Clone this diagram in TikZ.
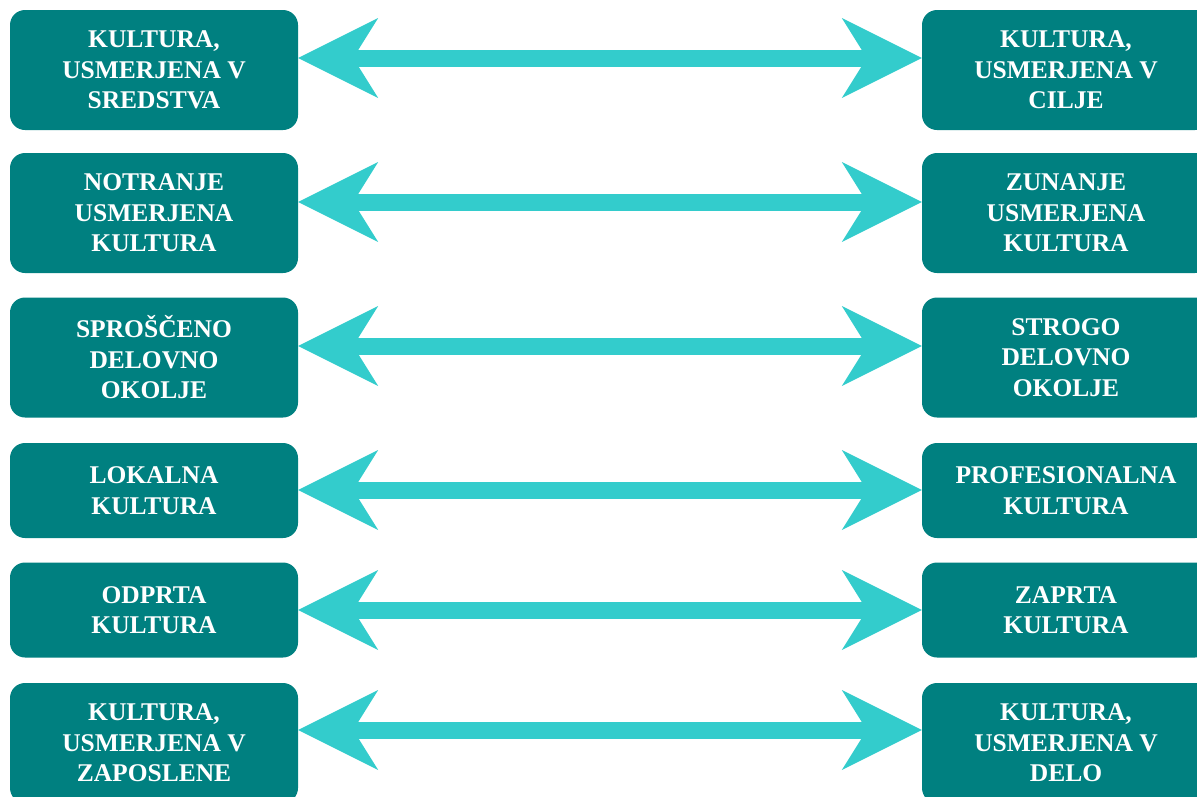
\documentclass[tikz,border=0pt]{standalone}
\usepackage{fontspec}
\setmainfont{Liberation Serif}
\usetikzlibrary{arrows.meta}
\definecolor{boxteal}{HTML}{008080}
\definecolor{arrowcyan}{HTML}{33CCCC}

\begin{document}
\begin{tikzpicture}[x=1pt,y=-1pt,
  cultbox/.style={rectangle, rounded corners=15pt, fill=boxteal, text=white,
    minimum width=288pt, inner sep=0pt, align=center,
    font=\bfseries\fontsize{25.5}{30.5}\selectfont},
  tallbox/.style={cultbox, minimum height=120pt},
  shortbox/.style={cultbox, minimum height=95pt},
  bigtip/.tip={Stealth[length=80pt, width=80pt, inset=25pt, line width=0pt, fill=arrowcyan]},
  twoway/.style={draw=arrowcyan, line width=17pt, bigtip-bigtip}
]
\useasboundingbox (0,0) rectangle (1197,796);
\clip (0,0) rectangle (1197,796);

% left column
\node[tallbox]  (L1) at (154,70)    {KULTURA,\\USMERJENA V\\SREDSTVA};
\node[tallbox]  (L2) at (154,213)   {NOTRANJE\\USMERJENA\\KULTURA};
\node[tallbox]  (L3) at (154,357.5) {SPROŠČENO\\DELOVNO\\OKOLJE};
\node[shortbox] (L4) at (154,490.5) {LOKALNA\\KULTURA};
\node[shortbox] (L5) at (154,610)   {ODPRTA\\KULTURA};
\node[tallbox]  (L6) at (154,743)   {KULTURA,\\USMERJENA V\\ZAPOSLENE};

% right column
\node[tallbox]  (R1) at (1066,70)    {KULTURA,\\USMERJENA V\\CILJE};
\node[tallbox]  (R2) at (1066,213)   {ZUNANJE\\USMERJENA\\KULTURA};
\node[tallbox]  (R3) at (1066,357.5) {STROGO\\DELOVNO\\OKOLJE};
\node[shortbox] (R4) at (1066,490.5) {PROFESIONALNA\\KULTURA};
\node[shortbox] (R5) at (1066,610)   {ZAPRTA\\KULTURA};
\node[tallbox]  (R6) at (1066,743)   {KULTURA,\\USMERJENA V\\DELO};

% arrow heights
\coordinate (y1) at (0,58);
\coordinate (y2) at (0,202);
\coordinate (y3) at (0,346);
\coordinate (y4) at (0,490);
\coordinate (y5) at (0,610);
\coordinate (y6) at (0,730);

% double-headed connectors
\foreach \i in {1,...,6}{
  \draw[twoway] (L\i.east |- y\i) -- (R\i.west |- y\i);
}
\end{tikzpicture}
\end{document}
